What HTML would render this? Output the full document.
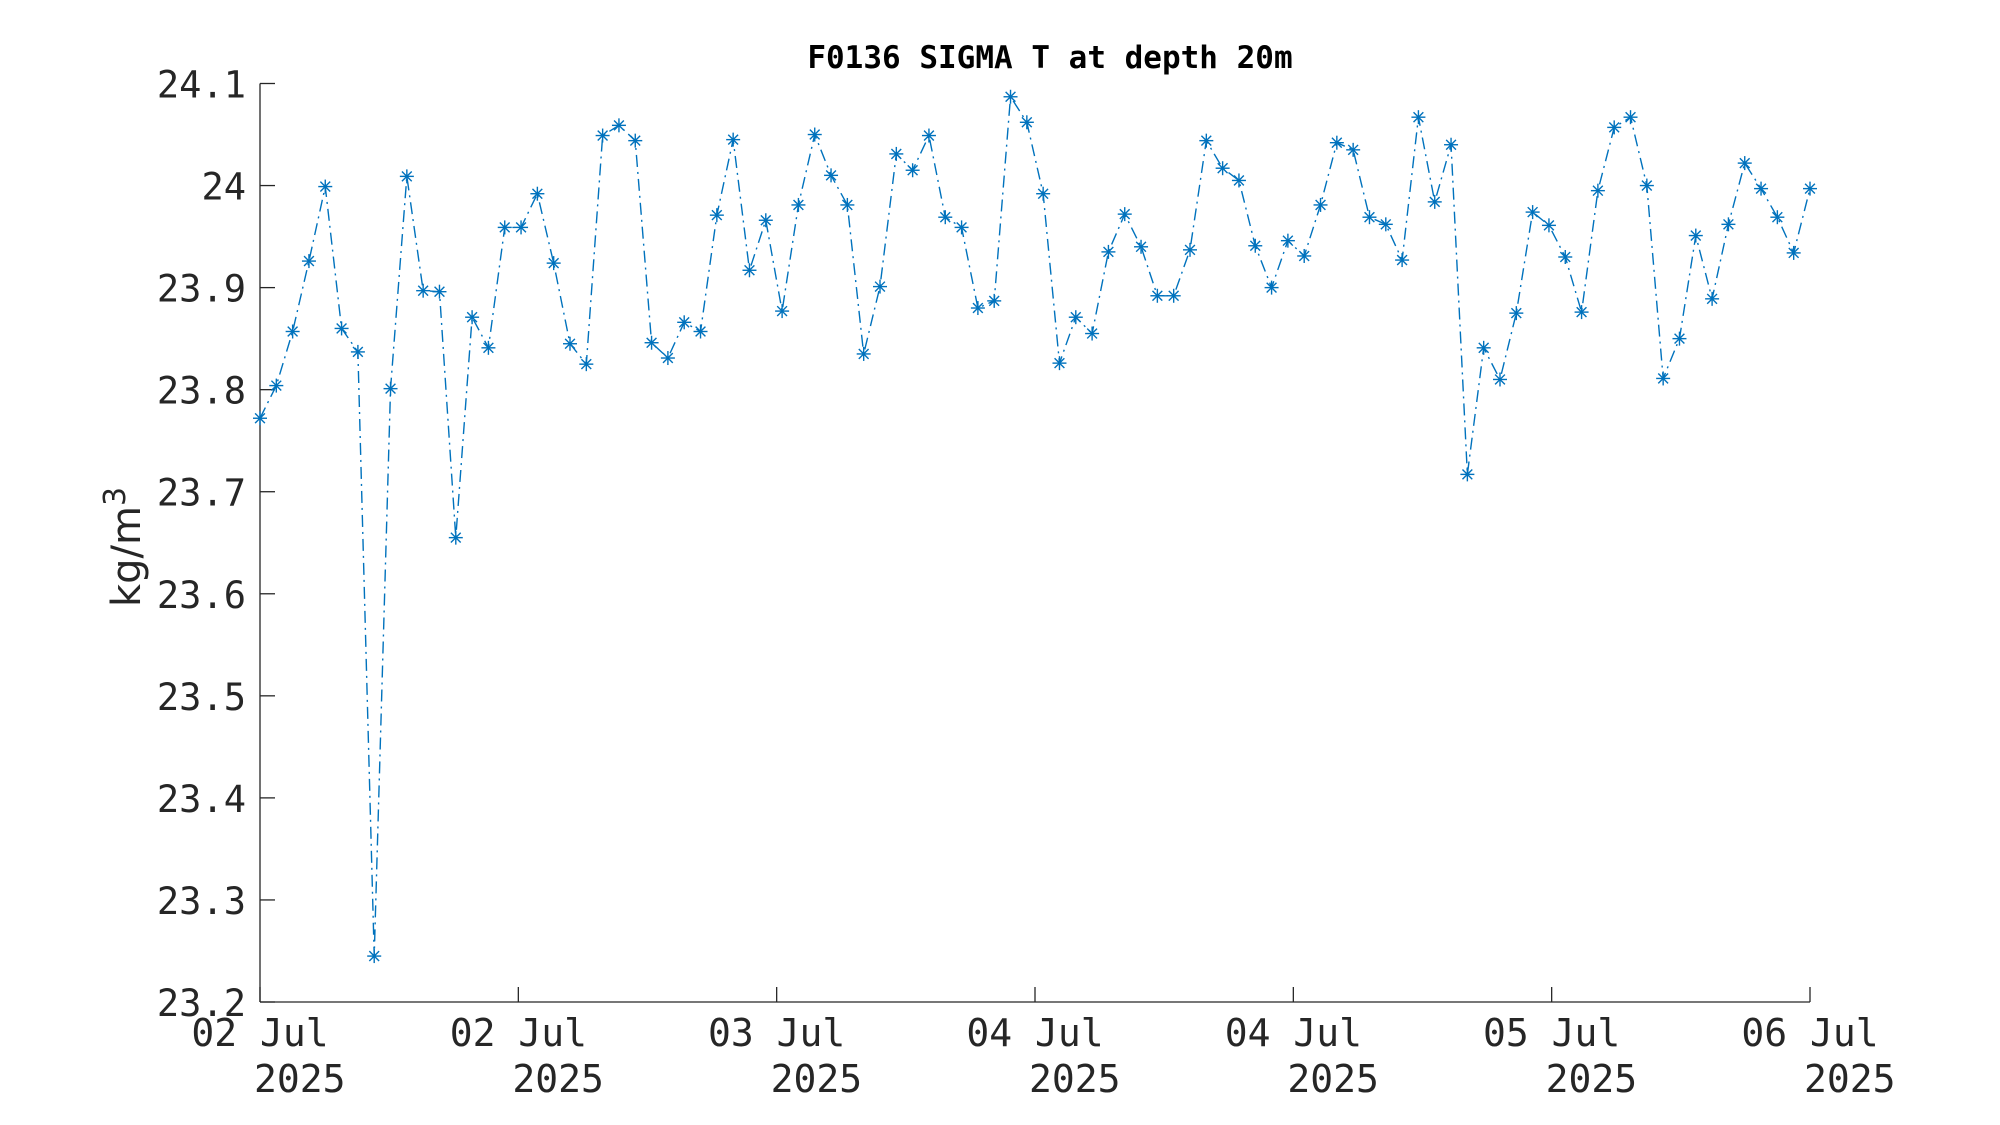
<!DOCTYPE html>
<html><head><meta charset="utf-8"><style>
html,body{margin:0;padding:0;background:#fff;}
svg{display:block;}
text{font-family:"DejaVu Sans Mono","Liberation Mono",monospace;fill:#262626;}
</style></head>
<body>
<svg id="chart" width="2000" height="1125" viewBox="0 0 2000 1125" xmlns="http://www.w3.org/2000/svg">
<rect width="2000" height="1125" fill="#fff"/>
<text x="1050" y="68" text-anchor="middle" font-size="31" font-weight="bold" style="fill:#000">F0136 SIGMA T at depth 20m</text>
<text transform="translate(140,547) rotate(-90)" text-anchor="middle" font-size="40" style="font-family:'DejaVu Sans','Liberation Sans',sans-serif">kg/m<tspan dy="-15" font-size="30">3</tspan></text>
<g id="axes"></g>
<g id="series"></g>
</svg>
<script>
const hours = [0,1,2,3,4,5,6,7,8,9,10,11,12,13,14,15,16,17,18,19,20,21,22,23,24,25,26,27,28,29,30,31,32,33,34,35,36,37,38,39,40,41,42,43,44,45,46,47,48,49,50,51,52,53,54,55,56,57,58,59,60,61,62,63,64,65,66,67,68,69,70,71,72,73,74,75,76,77,78,79,80,81,82,83,84,85,86,87,88,89,90,91,92,93,94,95];
const sigmaT = [23.772,23.804,23.857,23.926,23.999,23.86,23.837,23.245,23.801,24.009,23.897,23.896,23.655,23.871,23.841,23.959,23.959,23.992,23.924,23.845,23.825,24.049,24.059,24.044,23.846,23.831,23.866,23.857,23.971,24.045,23.917,23.966,23.877,23.981,24.05,24.01,23.981,23.835,23.901,24.031,24.015,24.049,23.969,23.959,23.88,23.887,24.087,24.062,23.992,23.826,23.871,23.855,23.935,23.972,23.94,23.892,23.892,23.937,24.044,24.017,24.005,23.941,23.9,23.946,23.931,23.981,24.042,24.035,23.969,23.962,23.927,24.067,23.984,24.04,23.717,23.841,23.81,23.875,23.974,23.961,23.93,23.876,23.995,24.057,24.067,24.0,23.811,23.85,23.951,23.889,23.962,24.022,23.997,23.969,23.934,23.997];
const yTicks = [23.2,23.3,23.4,23.5,23.6,23.7,23.8,23.9,24,24.1];
const yTickLabels = ["23.2","23.3","23.4","23.5","23.6","23.7","23.8","23.9","24","24.1"];
const xTickLabels = ["02 Jul","02 Jul","03 Jul","04 Jul","04 Jul","05 Jul","06 Jul"];
const xTickYear = ["2025","2025","2025","2025","2025","2025","2025"];

const L=260,R=1810,T=83.5,B=1002;
const xMin=0,xMax=95,yMin=23.2,yMax=24.1;
const sx=v=>L+(v-xMin)/(xMax-xMin)*(R-L);
const sy=v=>B-(v-yMin)/(yMax-yMin)*(B-T);
const NS="http://www.w3.org/2000/svg";
const axes=document.getElementById('axes'), series=document.getElementById('series');
function mk(tag,attrs,parent){const e=document.createElementNS(NS,tag);for(const k in attrs)e.setAttribute(k,attrs[k]);parent.appendChild(e);return e;}

let e=mk('line',{x1:L,y1:T,x2:L,y2:B,stroke:'#262626','stroke-width':1.3},axes);


e=mk('line',{x1:L,y1:B,x2:R,y2:B,stroke:'#262626','stroke-width':1.3},axes);



yTicks.forEach((v,i)=>{
  const y=sy(v);
  let t=mk('line',{x1:L,y1:y,x2:L+15,y2:y,stroke:'#262626','stroke-width':1.3},axes);
  
  
  let tx=mk('text',{x:246,y:y+14,'text-anchor':'end','font-size':37},axes);
  tx.textContent=yTickLabels[i];
  
  
});
xTickLabels.forEach((lab,i)=>{
  const x=L+i*(R-L)/(xTickLabels.length-1);
  let t=mk('line',{x1:x,y1:B,x2:x,y2:B-15,stroke:'#262626','stroke-width':1.3},axes);
  
  
  let tx=mk('text',{x:x,y:1046,'text-anchor':'middle','font-size':38},axes);
  tx.textContent=lab;
  
  
  let ty=mk('text',{x:x-6,y:1092,'text-anchor':'start','font-size':38},axes);
  ty.textContent=xTickYear[i];
  
  
});

const pts=hours.map((h,i)=>sx(h).toFixed(2)+','+sy(sigmaT[i]).toFixed(2)).join(' ');
let pl=mk('polyline',{points:pts,fill:'none',stroke:'#0072BD','stroke-width':1.4,'stroke-dasharray':'12 5 2 5'},series);


hours.forEach((h,i)=>{
  const x=sx(h),y=sy(sigmaT[i]),r=7;
  const g=mk('g',{stroke:'#0072BD','stroke-width':1.4},series);
  
  
  mk('line',{x1:x-r,y1:y,x2:x+r,y2:y},g);
  mk('line',{x1:x,y1:y-r,x2:x,y2:y+r},g);
  mk('line',{x1:x-r*0.7,y1:y-r*0.7,x2:x+r*0.7,y2:y+r*0.7},g);
  mk('line',{x1:x-r*0.7,y1:y+r*0.7,x2:x+r*0.7,y2:y-r*0.7},g);
});
</script>
</body></html>
